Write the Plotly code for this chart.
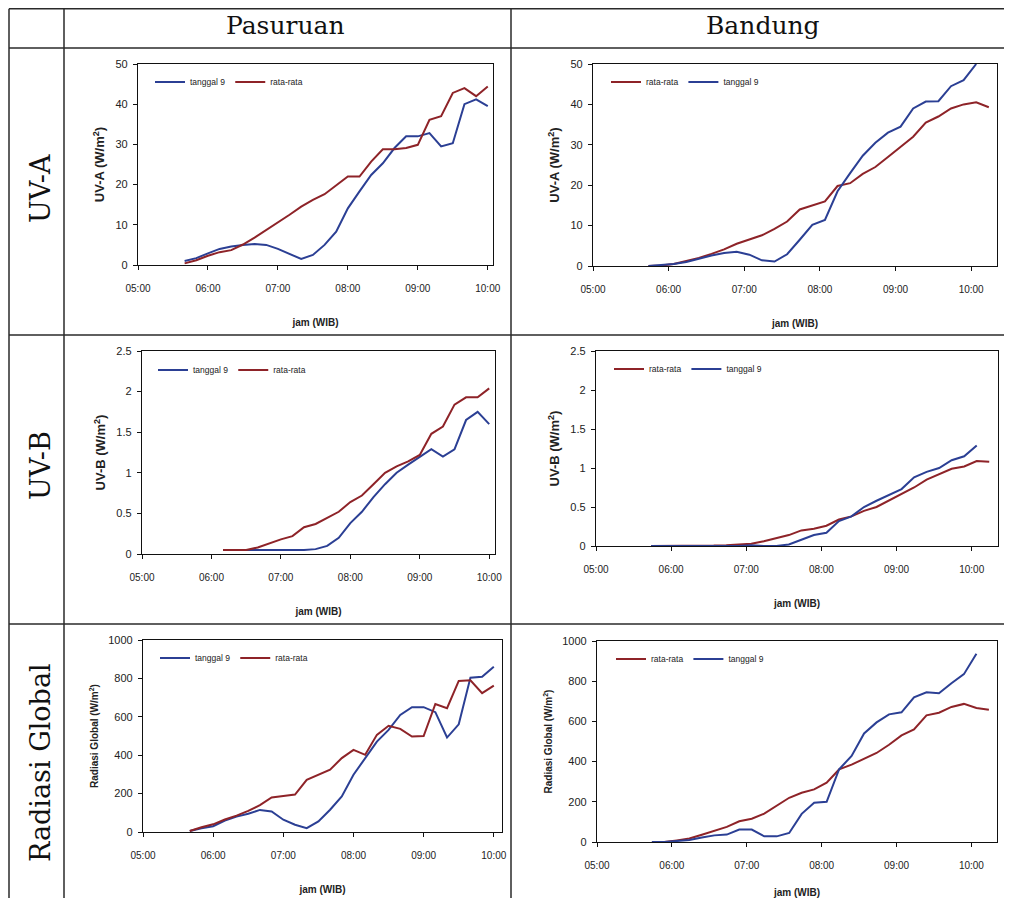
import plotly.graph_objects as go

# ---------------- data ----------------
# Pasuruan time stamps (WIB)
pas_time = ["05:40", "05:50", "06:00", "06:10", "06:20", "06:30", "06:40", "06:50", "07:00",
            "07:10", "07:20", "07:30", "07:40", "07:50", "08:00", "08:10", "08:20", "08:30",
            "08:40", "08:50", "09:00", "09:10", "09:20", "09:30", "09:40", "09:50", "10:00"]
pas_time_uvb = ["06:10", "06:20", "06:30", "06:40", "06:50", "07:00", "07:10", "07:20",
                "07:30", "07:40", "07:50", "08:00", "08:10", "08:20", "08:30", "08:40",
                "08:50", "09:00", "09:10", "09:20", "09:30", "09:40", "09:50", "10:00"]
# Bandung time stamps (WIB)
ban_time = ["05:44", "05:54", "06:04", "06:14", "06:24", "06:34", "06:44", "06:54", "07:04",
            "07:14", "07:24", "07:34", "07:44", "07:54", "08:04", "08:14", "08:24", "08:34",
            "08:44", "08:54", "09:04", "09:14", "09:24", "09:34", "09:44", "09:54", "10:04",
            "10:14"]

# Pasuruan UV-A (W/m2)
pas_uva_tgl9 = [1.0, 1.7, 2.9, 4.0, 4.6, 5.0, 5.2, 5.0, 4.0, 2.7, 1.5, 2.5, 5.0, 8.3, 14.1,
                18.3, 22.4, 25.3, 29.1, 32.0, 32.0, 32.8, 29.5, 30.3, 40.0, 41.2, 39.5]
pas_uva_rata = [0.4, 1.2, 2.3, 3.2, 3.7, 5.1, 6.8, 8.7, 10.4, 12.5, 14.5, 16.2, 17.6, 19.9,
                22.0, 22.0, 25.7, 28.8, 28.8, 29.1, 29.9, 36.1, 37.0, 42.8, 44.0, 42.0, 44.4]
# Bandung UV-A (W/m2)
ban_uva_rata = [0.0, 0.1, 0.5, 1.2, 2.0, 3.0, 4.1, 5.5, 6.5, 7.6, 9.2, 11.0, 14.0, 15.0,
                16.0, 19.8, 20.5, 22.8, 24.5, 27.0, 29.5, 32.0, 35.5, 37.0, 39.0, 40.0, 40.5,
                39.3]
ban_uva_tgl9 = [0.0, 0.3, 0.5, 1.0, 1.8, 2.6, 3.2, 3.5, 2.8, 1.4, 1.1, 2.9, 6.5, 10.2, 11.4,
                18.5, 23.0, 27.3, 30.5, 33.0, 34.5, 39.0, 40.7, 40.8, 44.5, 46.0, 50.0]

# Pasuruan UV-B (W/m2)
pas_uvb_tgl9 = [0.05, 0.05, 0.05, 0.05, 0.05, 0.05, 0.05, 0.05, 0.06, 0.10, 0.20, 0.38,
                0.52, 0.70, 0.86, 1.00, 1.10, 1.20, 1.29, 1.20, 1.29, 1.65, 1.75, 1.60]
pas_uvb_rata = [0.05, 0.05, 0.05, 0.08, 0.13, 0.18, 0.22, 0.33, 0.37, 0.44, 0.52, 0.64,
                0.72, 0.86, 1.00, 1.08, 1.14, 1.22, 1.48, 1.57, 1.84, 1.93, 1.93, 2.04]
# Bandung UV-B (W/m2)
ban_uvb_rata = [0.0, 0.0, 0.0, 0.0, 0.0, 0.005, 0.01, 0.02, 0.03, 0.06, 0.10, 0.14, 0.20,
                0.22, 0.26, 0.34, 0.38, 0.45, 0.50, 0.58, 0.66, 0.75, 0.85, 0.92, 0.99, 1.02,
                1.09, 1.08]
ban_uvb_tgl9 = [0.0, 0.0, 0.0, 0.0, 0.0, 0.0, 0.0, 0.0, 0.01, 0.0, 0.0, 0.02, 0.08, 0.14,
                0.17, 0.32, 0.38, 0.50, 0.58, 0.66, 0.73, 0.88, 0.95, 1.00, 1.10, 1.15, 1.29]

# Pasuruan Radiasi Global (W/m2)
pas_rg_tgl9 = [5, 20, 30, 60, 80, 95, 115, 107, 64, 38, 20, 55, 116, 185, 298, 385, 471, 532,
               610, 650, 650, 624, 492, 561, 804, 809, 861]
pas_rg_rata = [5, 25, 40, 65, 85, 110, 140, 180, 188, 195, 272, 300, 325, 385, 428, 402, 506,
               553, 537, 497, 500, 667, 645, 787, 790, 723, 762]
# Bandung Radiasi Global (W/m2)
ban_rg_rata = [0, 0, 8, 17, 36, 55, 75, 103, 116, 141, 182, 220, 245, 262, 295, 361, 385, 415,
               443, 484, 530, 560, 630, 643, 672, 687, 667, 658]
ban_rg_tgl9 = [0, 0, 5, 10, 22, 33, 37, 62, 62, 28, 28, 45, 140, 195, 200, 362, 428, 540, 595,
               635, 645, 720, 745, 740, 790, 835, 937]

col_headers = ["Pasuruan", "Bandung"]
row_headers = ["UV-A", "UV-B", "Radiasi Global"]
y_titles = ["UV-A (W/m<sup>2</sup>)", "UV-B (W/m<sup>2</sup>)", "Radiasi Global (W/m<sup>2</sup>)"]
x_title = "jam (WIB)"
x_ticks = ["05:00", "06:00", "07:00", "08:00", "09:00", "10:00"]

# ---------------- layout helpers ----------------
# the page body adds an 8 px margin, so the figure is sized to fit inside the window
PAGE_W, PAGE_H = 1012, 906
OFF = 8
W, H = PAGE_W - 2 * OFF, PAGE_H - 2 * OFF
BLUE = "#2b3f94"
RED = "#8e2328"
DAY = "2000-01-01 "


def fx(px):
    return (px - OFF) / W


def fy(py):
    return 1 - (py - OFF) / H


def t(lst):
    return [DAY + s for s in lst]


# panel geometry in page pixels: (left, right, top, bottom), x end time, y range, dtick
panels = [
    dict(box=(138, 493, 64, 265), xend="10:04:30", yr=[0, 50], dt=10,
         leg=(150, 82), order=("tgl9", "rata"),
         x=(pas_time, pas_time), tg=pas_uva_tgl9, ra=pas_uva_rata),
    dict(box=(593, 997, 64, 266), xend="10:20:30", yr=[0, 50], dt=10,
         leg=(606, 82), order=("rata", "tgl9"),
         x=(ban_time[:27], ban_time), tg=ban_uva_tgl9, ra=ban_uva_rata),
    dict(box=(142, 495, 351, 554), xend="10:05", yr=[0, 2.5], dt=0.5,
         leg=(153, 370), order=("tgl9", "rata"),
         x=(pas_time_uvb, pas_time_uvb), tg=pas_uvb_tgl9, ra=pas_uvb_rata),
    dict(box=(596, 998, 351, 546), xend="10:21", yr=[0, 2.5], dt=0.5,
         leg=(609, 369), order=("rata", "tgl9"),
         x=(ban_time[:27], ban_time), tg=ban_uvb_tgl9, ra=ban_uvb_rata),
    dict(box=(143, 502, 640, 832), xend="10:07", yr=[0, 1000], dt=200,
         leg=(155, 658), order=("tgl9", "rata"),
         x=(pas_time, pas_time), tg=pas_rg_tgl9, ra=pas_rg_rata),
    dict(box=(597, 997, 641, 842), xend="10:20:30", yr=[0, 1000], dt=200,
         leg=(611, 659), order=("rata", "tgl9"),
         x=(ban_time[:27], ban_time), tg=ban_rg_tgl9, ra=ban_rg_rata),
]
y_title_size = [13, 13, 10]

fig = go.Figure()
layout = dict(
    width=W, height=H, margin=dict(l=0, r=0, t=0, b=0, autoexpand=False),
    paper_bgcolor="white", plot_bgcolor="white",
    font=dict(family="Liberation Sans, Arial, sans-serif", color="#222"),
    showlegend=True,
)

axis_common = dict(showline=True, mirror=True, linecolor="#111", linewidth=1.3,
                   showgrid=False, zeroline=False, ticks="outside", ticklen=4,
                   tickcolor="#111", tickwidth=1, automargin=False)

for i, p in enumerate(panels):
    n = "" if i == 0 else str(i + 1)
    l, r, tp, bt = p["box"]
    legname = "legend" + n
    row = i // 2
    for key in p["order"]:
        if key == "tgl9":
            fig.add_trace(go.Scatter(x=t(p["x"][0]), y=p["tg"], mode="lines", name="tanggal 9",
                                     line=dict(color=BLUE, width=2), xaxis="x" + n,
                                     yaxis="y" + n, legend=legname, cliponaxis=True))
        else:
            fig.add_trace(go.Scatter(x=t(p["x"][1]), y=p["ra"], mode="lines", name="rata-rata",
                                     line=dict(color=RED, width=2), xaxis="x" + n,
                                     yaxis="y" + n, legend=legname, cliponaxis=True))
    layout["xaxis" + n] = dict(
        axis_common, domain=[fx(l), fx(r)], anchor="y" + n, type="date",
        range=[DAY + "05:00", DAY + p["xend"]],
        tickmode="array", tickvals=t(x_ticks), ticktext=x_ticks,
        tickfont=dict(size=10, color="#222"), ticklabelstandoff=10,
        title=dict(text="<b>" + x_title + "</b>", font=dict(size=10, color="#222"), standoff=25),
    )
    layout["yaxis" + n] = dict(
        axis_common, domain=[fy(bt), fy(tp)], anchor="x" + n, range=p["yr"], dtick=p["dt"],
        tick0=0, tickfont=dict(size=11, color="#222"), ticklabelstandoff=3,
        title=dict(text="<b>" + y_titles[row] + "</b>",
                   font=dict(size=y_title_size[row], color="#222"), standoff=7),
    )
    lx, ly = p["leg"]
    layout[legname] = dict(
        x=fx(lx), y=fy(ly), xanchor="left", yanchor="middle", orientation="h",
        bgcolor="rgba(0,0,0,0)", font=dict(size=8.5, color="#222"), itemwidth=30,
        traceorder="normal",
    )

# table lines
shapes = []
LC = "#2a2a2a"
for yy in [8.8, 48, 335, 624]:
    shapes.append(dict(type="line", xref="paper", yref="paper", x0=fx(9), x1=1,
                       y0=fy(yy), y1=fy(yy), line=dict(color=LC, width=1.5)))
for xx in [9, 64, 511]:
    shapes.append(dict(type="line", xref="paper", yref="paper", x0=fx(xx), x1=fx(xx),
                       y0=fy(8.8), y1=0, line=dict(color=LC, width=1.5)))
layout["shapes"] = shapes

annotations = []
for txt, cx in zip(col_headers, [285, 763]):
    annotations.append(dict(text=txt, x=fx(cx), y=fy(26), xref="paper", yref="paper",
                            showarrow=False, xanchor="center", yanchor="middle",
                            font=dict(family="DejaVu Serif", size=25, color="#111")))
for txt, cy in zip(row_headers, [188, 465, 763]):
    annotations.append(dict(text=txt, x=fx(40), y=fy(cy), xref="paper", yref="paper",
                            showarrow=False, xanchor="center", yanchor="middle",
                            textangle=-90,
                            font=dict(family="DejaVu Serif", size=27, color="#111")))
layout["annotations"] = annotations

fig.update_layout(**layout)
fig.write_html("out.html")
